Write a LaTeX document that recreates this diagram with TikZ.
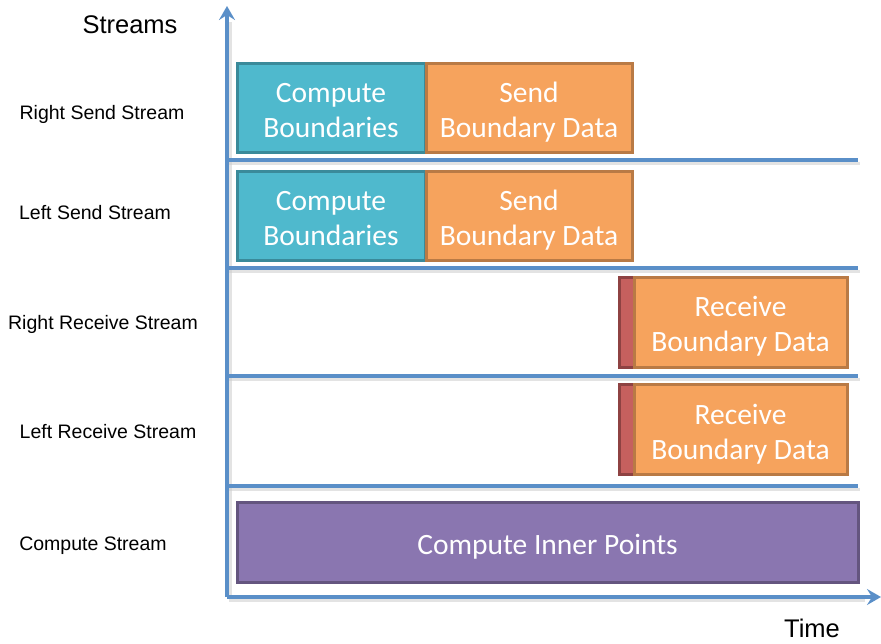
\documentclass[tikz,border=0pt]{standalone}
\usepackage{fontspec}
\setmainfont{Carlito}
\newfontfamily\arialfont{Liberation Sans}
\usetikzlibrary{arrows.meta}
\definecolor{axisblue}{HTML}{5A8FC8}
\definecolor{shadowgray}{HTML}{C8C8C8}
\definecolor{aquafill}{HTML}{4FB9CD}
\definecolor{aquadraw}{HTML}{3A8A9A}
\definecolor{orangefill}{HTML}{F6A35D}
\definecolor{orangedraw}{HTML}{B97A45}
\definecolor{redfill}{HTML}{C6605E}
\definecolor{reddraw}{HTML}{8E4242}
\definecolor{purplefill}{HTML}{8A76B0}
\definecolor{purpledraw}{HTML}{64557F}
\newcommand{\topstrut}{\rule{0pt}{32pt}}
\newcommand{\botstrut}{\rule[-8pt]{0pt}{8pt}}
\tikzset{
  box/.style={draw, line width=3pt, inner sep=0pt, text=white, align=center,
    font=\fontsize{29.5}{35}\selectfont},
  aquabox/.style={box, fill=aquafill, draw=aquadraw, minimum height=89pt},
  orangebox/.style={box, fill=orangefill, draw=orangedraw, minimum height=89pt},
  redbar/.style={box, fill=redfill, draw=reddraw, minimum height=90pt, minimum width=15pt},
  purplebox/.style={box, fill=purplefill, draw=purpledraw, minimum height=80pt, minimum width=621pt,
    text height=30pt, text depth=6pt},
  lbl/.style={font=\arialfont\fontsize{19.5}{22}\selectfont, inner sep=0pt},
  biglbl/.style={font=\arialfont\fontsize{25.5}{28}\selectfont, inner sep=0pt},
  axis/.style={draw=axisblue, line width=3.5pt, -{Stealth[length=14pt,width=16pt,inset=5pt]}},
  lane/.style={draw=axisblue, line width=3.5pt},
  shadowline/.style={draw=shadowgray, line width=3pt, opacity=0.5},
}
\begin{document}
\begin{tikzpicture}[x=1pt,y=-1pt]
\useasboundingbox (0,0) rectangle (881,643);
% coordinates
\coordinate (o) at (227,597);
\coordinate (ytop) at (227,6);
\coordinate (xend) at (881,597);
\foreach \n/\y in {1/160,2/268,3/376,4/486} {
  \coordinate (l\n a) at (227,\y);
  \coordinate (l\n b) at (858,\y);
}
% shadows
\foreach \n in {1,2,3,4} {
  \draw[shadowline] ([shift={(2,3)}]l\n a) -- ([shift={(2,3)}]l\n b);
}
\draw[shadowline] ([shift={(2,3)}]o) -- ([shift={(-16,3)}]xend);
\draw[shadowline] ([shift={(3,2)}]o) -- ([shift={(3,16)}]ytop);
% lanes
\foreach \n in {1,2,3,4} {
  \draw[lane] (l\n a) -- (l\n b);
}
% axes
\draw[axis] (o) -- (ytop);
\draw[axis] (o) -- (xend);
% labels
\node[biglbl] (streams) at (130,25) {Streams};
\node[biglbl] (time) at (812,628) {Time};
\node[lbl] (rss) at (102,114) {Right Send Stream};
\node[lbl] (lss) at (95,213) {Left Send Stream};
\node[lbl] (rrs) at (103,324) {Right Receive Stream};
\node[lbl] (lrs) at (108,432) {Left Receive Stream};
\node[lbl] (cs) at (93,546) {Compute Stream};
% row 1
\node[aquabox, minimum width=188pt] (cb1) at (331,107.5) {\topstrut Compute\\Boundaries\botstrut};
\node[orangebox, minimum width=206pt] (sb1) at (529,107.5) {\topstrut Send\\Boundary Data\botstrut};
% row 2
\node[aquabox, minimum width=188pt] (cb2) at (331,215.5) {\topstrut Compute\\Boundaries\botstrut};
\node[orangebox, minimum width=206pt] (sb2) at (529,215.5) {\topstrut Send\\Boundary Data\botstrut};
% row 3
\node[redbar] (rb3) at (626.5,322) {};
\node[orangebox, minimum width=213pt, minimum height=90pt] (rcv3) at (740.5,322) {\topstrut Receive\\Boundary Data\botstrut};
% row 4
\node[redbar] (rb4) at (626.5,429.5) {};
\node[orangebox, minimum width=213pt, minimum height=90pt] (rcv4) at (740.5,429.5) {\topstrut Receive\\Boundary Data\botstrut};
% compute
\node[purplebox] (cip) at (547.5,542) {Compute Inner Points};
\end{tikzpicture}
\end{document}
